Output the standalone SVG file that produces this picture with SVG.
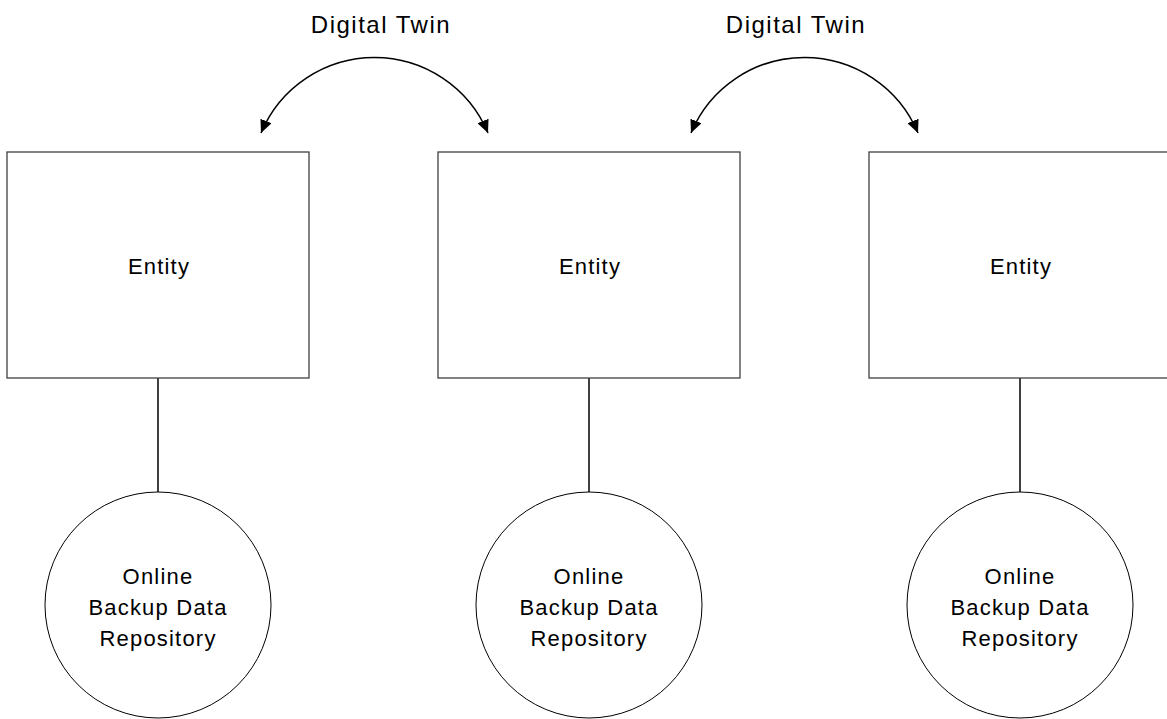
<svg xmlns="http://www.w3.org/2000/svg" width="1167" height="719" viewBox="0 0 1167 719">
<style>
.box{fill:#fff;stroke:#404040;stroke-width:1.3}
.circ{fill:#fff;stroke:#000;stroke-width:1}
.link{stroke:#000;stroke-width:1.5;fill:none}
.arc{stroke:#000;stroke-width:1.5;fill:none;marker-start:url(#ah);marker-end:url(#ah)}
text{font-family:"Liberation Sans",Arial,sans-serif;fill:#000;text-anchor:middle}
.t1{font-size:22px;letter-spacing:1.2px}
.t2{font-size:24px;letter-spacing:1.5px}
</style>
<defs>
<marker id="ah" markerUnits="userSpaceOnUse" markerWidth="14" markerHeight="12" refX="13" refY="6" orient="auto-start-reverse">
<path d="M0,0 L13,6 L0,12 z" fill="#000"/>
</marker>
</defs>
<rect width="1167" height="719" fill="#fff"/>
<g id="connectors">
<line class="link" x1="158" y1="378" x2="158" y2="492"/>
<line class="link" x1="589" y1="378" x2="589" y2="492"/>
<line class="link" x1="1020" y1="378" x2="1020" y2="492"/>
<path id="twin1" class="arc" d="M261,133 A123,123 0 0 1 488,133"/>
<path id="twin2" class="arc" d="M691,133 A123,123 0 0 1 918,133"/>
</g>
<g id="label-twin1"><text class="t2" x="381" y="33">Digital Twin</text></g>
<g id="label-twin2"><text class="t2" x="796" y="33">Digital Twin</text></g>
<g id="entity1"><rect class="box" x="7" y="152" width="302" height="226"/><text class="t1" x="159" y="274">Entity</text></g>
<g id="entity2"><rect class="box" x="438" y="152" width="302" height="226"/><text class="t1" x="590" y="274">Entity</text></g>
<g id="entity3"><rect class="box" x="869" y="152" width="302" height="226"/><text class="t1" x="1021" y="274">Entity</text></g>
<g id="repo1"><circle class="circ" cx="158" cy="605" r="113"/>
<text class="t1" x="158" y="584">Online</text><text class="t1" x="158" y="615">Backup Data</text><text class="t1" x="158" y="646">Repository</text></g>
<g id="repo2"><circle class="circ" cx="589" cy="605" r="113"/>
<text class="t1" x="589" y="584">Online</text><text class="t1" x="589" y="615">Backup Data</text><text class="t1" x="589" y="646">Repository</text></g>
<g id="repo3"><circle class="circ" cx="1020" cy="605" r="113"/>
<text class="t1" x="1020" y="584">Online</text><text class="t1" x="1020" y="615">Backup Data</text><text class="t1" x="1020" y="646">Repository</text></g>
</svg>
